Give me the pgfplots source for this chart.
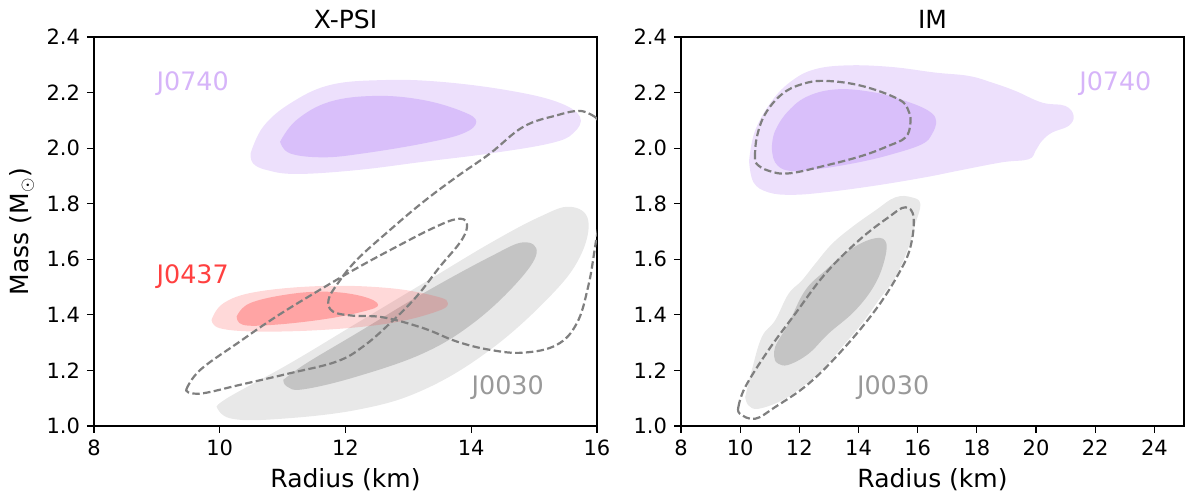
\documentclass[border=0pt]{standalone}
\usepackage{pgfplots}
\pgfplotsset{compat=1.18}
\usepackage{fontspec}
\setmainfont{DejaVu Sans}
\definecolor{purpO}{HTML}{EDE0FC}
\definecolor{purpI}{HTML}{D9BFFA}
\definecolor{purpL}{HTML}{D6B4F9}
\definecolor{redF}{HTML}{FF4040}
\definecolor{grayO}{HTML}{E8E8E8}
\definecolor{grayI}{HTML}{C4C4C4}
\definecolor{grayL}{HTML}{999999}
\definecolor{dashC}{HTML}{7F7F7F}
\tikzset{lab/.style={font=\fontsize{12.7}{15}\selectfont, anchor=center}}
\pgfplotsset{
  common/.style={
    scale only axis, width=251.5pt, height=194.5pt,
    ymin=1.0, ymax=2.4, ytick={1.0,1.2,1.4,1.6,1.8,2.0,2.2,2.4},
    yticklabel style={/pgf/number format/.cd, fixed, fixed zerofill, precision=1},
    /pgf/number format/assume math mode=true,
    tick align=outside, xtick pos=bottom, ytick pos=left,
    axis line style={line width=0.75pt},
    tick style={black, line width=0.6pt}, major tick length=3.5pt,
    tick label style={font=\fontsize{10.5}{12}\selectfont},
    label style={font=\fontsize{12.5}{14}\selectfont},
    title style={font=\fontsize{12.5}{14}\selectfont, anchor=center, at={(axis description cs:0.5,1)}, yshift=3pt},
    x label style={anchor=center, at={(axis description cs:0.5,0)}, yshift=-27pt},
    xlabel={Radius (km)},
  },
  dashc/.style={dashC, line width=1.1pt, dash pattern=on 3.7pt off 1.7pt, smooth, tension=0.65},
  fillsm/.style={draw=none, smooth, tension=0.65},
}
\begin{document}
\begin{tikzpicture}
\begin{axis}[common, at={(0,0)}, anchor=south west,
  xmin=8, xmax=16, xtick={8,10,12,14,16},
  title={X-PSI},
  ylabel={Mass (M\textsubscript{$\odot$})},
  y label style={anchor=center, at={(axis description cs:0,0.5)}, yshift=36pt},
]
% J0030 outer / inner
\addplot[fillsm, fill=grayO] coordinates {(9.95,1.070) (10.16,1.106) (11.12,1.226) (12.18,1.370) (13.24,1.514) (14.30,1.658) (15.09,1.753) (15.57,1.789) (15.86,1.741) (15.73,1.609) (15.25,1.466) (14.30,1.274) (13.24,1.130) (12.18,1.058) (10.85,1.024) (10.16,1.028) (9.95,1.070)};
\addplot[fillsm, fill=grayI] coordinates {(11.01,1.166) (11.38,1.226) (12.18,1.334) (13.24,1.478) (14.30,1.609) (14.83,1.661) (15.04,1.622) (14.72,1.514) (14.03,1.370) (13.24,1.262) (12.18,1.178) (11.33,1.132) (11.07,1.142) (11.01,1.166)};
% J0437 outer / inner
\addplot[fillsm, fill=redF, fill opacity=0.2] coordinates {(9.87,1.382) (10.06,1.442) (10.59,1.483) (11.65,1.504) (12.71,1.496) (13.45,1.466) (13.63,1.442) (13.45,1.412) (12.71,1.370) (11.65,1.346) (10.59,1.340) (10.00,1.352) (9.87,1.382)};
\addplot[fillsm, fill=redF, fill opacity=0.35] coordinates {(10.27,1.394) (10.48,1.442) (11.12,1.475) (11.75,1.483) (12.28,1.466) (12.52,1.436) (12.28,1.412) (11.65,1.384) (10.85,1.364) (10.37,1.364) (10.27,1.394)};
% J0740 outer / inner
\addplot[fillsm, fill=purpO] coordinates {(10.49,1.981) (10.69,2.077) (11.12,2.161) (11.75,2.227) (12.60,2.245) (13.50,2.239) (14.56,2.209) (15.36,2.167) (15.73,2.113) (15.62,2.053) (15.25,2.017) (14.30,1.981) (13.24,1.951) (12.18,1.921) (11.22,1.907) (10.75,1.921) (10.53,1.945) (10.49,1.981)};
\addplot[fillsm, fill=purpI] coordinates {(10.96,2.023) (11.22,2.101) (11.75,2.167) (12.49,2.188) (13.24,2.173) (13.87,2.131) (14.08,2.095) (13.87,2.053) (13.24,2.017) (12.28,1.981) (11.65,1.967) (11.12,1.981) (10.96,2.023)};
% dashed contours
\addplot[dashc] coordinates {(9.47,1.132) (9.69,1.202) (10.32,1.304) (10.90,1.394) (11.54,1.483) (12.18,1.568) (12.81,1.645) (13.39,1.712) (13.77,1.745) (13.93,1.730) (13.85,1.670) (13.50,1.573) (13.13,1.466) (12.71,1.370) (12.28,1.286) (11.86,1.232) (11.12,1.190) (10.32,1.148) (9.74,1.118) (9.50,1.121) (9.47,1.132)};
\addplot[dashc] coordinates {(15.97,2.112) (15.73,2.134) (15.36,2.118) (14.83,2.077) (14.30,1.981) (13.77,1.897) (13.24,1.807) (12.71,1.706) (12.18,1.598) (11.88,1.514) (11.73,1.454) (11.80,1.412) (12.12,1.397) (12.60,1.391) (13.24,1.352) (13.77,1.304) (14.30,1.274) (14.83,1.264) (15.36,1.292) (15.68,1.370) (15.86,1.502) (15.97,1.645) (16.10,1.850) (16.12,2.040) (15.97,2.112)};
\node[lab, text=purpL] at (axis cs:9.57,2.234) {J0740};
\node[lab, text=redF] at (axis cs:9.57,1.536) {J0437};
\node[lab, text=grayL] at (axis cs:14.58,1.137) {J0030};
\end{axis}
\begin{axis}[common, at={(293.5pt,0)}, anchor=south west,
  xmin=8, xmax=25, xtick={8,10,12,14,16,18,20,22,24},
  title={IM},
]
\addplot[fillsm, fill=purpO] coordinates {(10.30,1.954) (10.50,2.062) (11.07,2.170) (11.74,2.242) (12.53,2.284) (13.66,2.298) (15.13,2.292) (16.59,2.272) (17.72,2.260) (18.51,2.236) (19.30,2.206) (20.20,2.164) (20.99,2.152) (21.27,2.116) (21.10,2.080) (20.54,2.056) (20.20,2.026) (19.98,1.990) (19.75,1.960) (18.85,1.949) (17.38,1.919) (16.25,1.895) (14.56,1.865) (12.87,1.841) (11.74,1.832) (10.95,1.841) (10.45,1.877) (10.30,1.954)};
\addplot[fillsm, fill=purpI] coordinates {(11.07,2.002) (11.18,2.062) (11.63,2.134) (12.31,2.188) (13.32,2.212) (14.56,2.200) (15.58,2.170) (16.37,2.134) (16.62,2.098) (16.48,2.050) (16.14,2.014) (15.13,1.978) (14.00,1.949) (12.64,1.925) (11.63,1.919) (11.18,1.949) (11.07,2.002)};
\addplot[fillsm, fill=grayO] coordinates {(10.17,1.104) (10.39,1.200) (10.73,1.320) (11.18,1.380) (11.63,1.475) (12.08,1.523) (12.53,1.583) (13.10,1.655) (13.77,1.715) (14.56,1.775) (15.24,1.823) (15.80,1.823) (16.09,1.799) (15.92,1.727) (15.69,1.643) (15.24,1.535) (14.67,1.451) (14.11,1.368) (13.44,1.284) (12.76,1.200) (12.08,1.140) (11.41,1.092) (10.62,1.062) (10.28,1.074) (10.17,1.104)};
\addplot[fillsm, fill=grayI] coordinates {(11.18,1.236) (11.18,1.284) (11.63,1.368) (12.19,1.487) (12.87,1.559) (13.66,1.631) (14.45,1.673) (14.90,1.667) (14.90,1.607) (14.56,1.511) (13.89,1.416) (12.98,1.332) (12.31,1.260) (11.63,1.220) (11.29,1.224) (11.18,1.236)};
\addplot[dashc] coordinates {(10.50,1.966) (10.56,2.038) (10.84,2.122) (11.41,2.194) (12.08,2.230) (12.87,2.242) (14.11,2.224) (15.35,2.176) (15.69,2.134) (15.75,2.086) (15.58,2.038) (15.01,2.008) (14.11,1.972) (12.87,1.937) (11.63,1.909) (10.95,1.919) (10.56,1.943) (10.50,1.966)};
\addplot[dashc] coordinates {(9.94,1.068) (10.17,1.140) (10.95,1.272) (11.86,1.404) (12.87,1.547) (14.00,1.667) (15.01,1.751) (15.58,1.787) (15.86,1.751) (15.75,1.643) (15.35,1.547) (14.56,1.416) (13.44,1.272) (12.31,1.152) (11.18,1.068) (10.50,1.026) (9.99,1.044) (9.94,1.068)};
\node[lab, text=purpL] at (axis cs:22.68,2.234) {J0740};
\node[lab, text=grayL] at (axis cs:15.17,1.137) {J0030};
\end{axis}
\pgfresetboundingbox
\path[use as bounding box] (-47pt,-36pt) rectangle (545.5pt,213pt);
\end{tikzpicture}
\end{document}
